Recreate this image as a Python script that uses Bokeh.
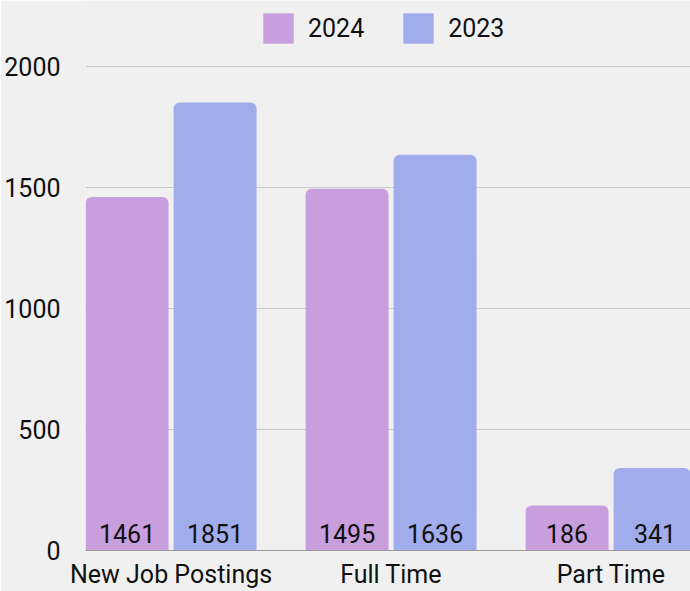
from bokeh.plotting import figure
from bokeh.models import ColumnDataSource, Range1d, FixedTicker, Legend, LegendItem
from bokeh.core.properties import value
from bokeh.embed import file_html
from bokeh.resources import INLINE

categories = ["New Job Postings", "Full Time", "Part Time"]
series_names = ["2024", "2023"]
values_2024 = [1461, 1495, 186]
values_2023 = [1851, 1636, 341]
y_ticks = [0, 500, 1000, 1500, 2000]

colors = ["#c89fdc", "#a0aceb"]
FONT = "Roboto"
FS = "25px"
TXT = "#111111"
BG = "#f0f0f0"

idx = list(range(len(categories)))

p = figure(width=690, height=591, output_backend="svg", toolbar_location=None,
           x_range=Range1d(-0.389, 2.361), y_range=Range1d(0, 2273),
           min_border_left=85, min_border_right=0, min_border_top=0, min_border_bottom=40,
           background_fill_color=BG, border_fill_color=BG, outline_line_color=None)

renderers = []
for name, vals, col, off in [(series_names[0], values_2024, colors[0], -0.2),
                             (series_names[1], values_2023, colors[1], 0.2)]:
    src = ColumnDataSource(dict(x=[i + off for i in idx], top=vals, label=[str(v) for v in vals]))
    r = p.vbar(x="x", top="top", bottom=0, width=0.377, source=src, fill_color=col,
               line_color=None, border_radius=(6, 6, 0, 0))
    renderers.append((name, r))
    p.text(x="x", y=0, text="label", source=src, text_align="center", text_baseline="alphabetic",
           y_offset=-17, text_font=value(FONT), text_font_size=FS, text_color=TXT)

legend = Legend(items=[LegendItem(label=n, renderers=[r]) for n, r in renderers],
                orientation="horizontal", location=(174, 503),
                glyph_width=38, glyph_height=38, label_standoff=11, spacing=35,
                label_text_font=FONT, label_text_font_size=FS, label_text_color=TXT,
                background_fill_alpha=0, border_line_color=None, margin=0, padding=9)
p.add_layout(legend, "center")

p.xaxis.ticker = FixedTicker(ticks=idx)
p.xaxis.major_label_overrides = {i: c for i, c in zip(idx, categories)}
p.xaxis.major_tick_line_color = None
p.xaxis.minor_tick_line_color = None
p.xaxis.axis_line_color = "#999999"
p.xaxis.major_label_text_font = FONT
p.xaxis.major_label_text_font_size = FS
p.xaxis.major_label_text_color = TXT
p.xaxis.major_label_standoff = 3

p.yaxis.ticker = FixedTicker(ticks=y_ticks)
p.yaxis.axis_line_color = None
p.yaxis.major_tick_line_color = None
p.yaxis.minor_tick_line_color = None
p.yaxis.major_label_text_font = FONT
p.yaxis.major_label_text_font_size = FS
p.yaxis.major_label_text_color = TXT
p.yaxis.major_label_standoff = 19

p.xgrid.grid_line_color = None
p.ygrid.ticker = FixedTicker(ticks=y_ticks[1:])
p.ygrid.grid_line_color = "#c8c8c8"
p.ygrid.grid_line_width = 1

open("out.html", "w").write(file_html(p, INLINE))
